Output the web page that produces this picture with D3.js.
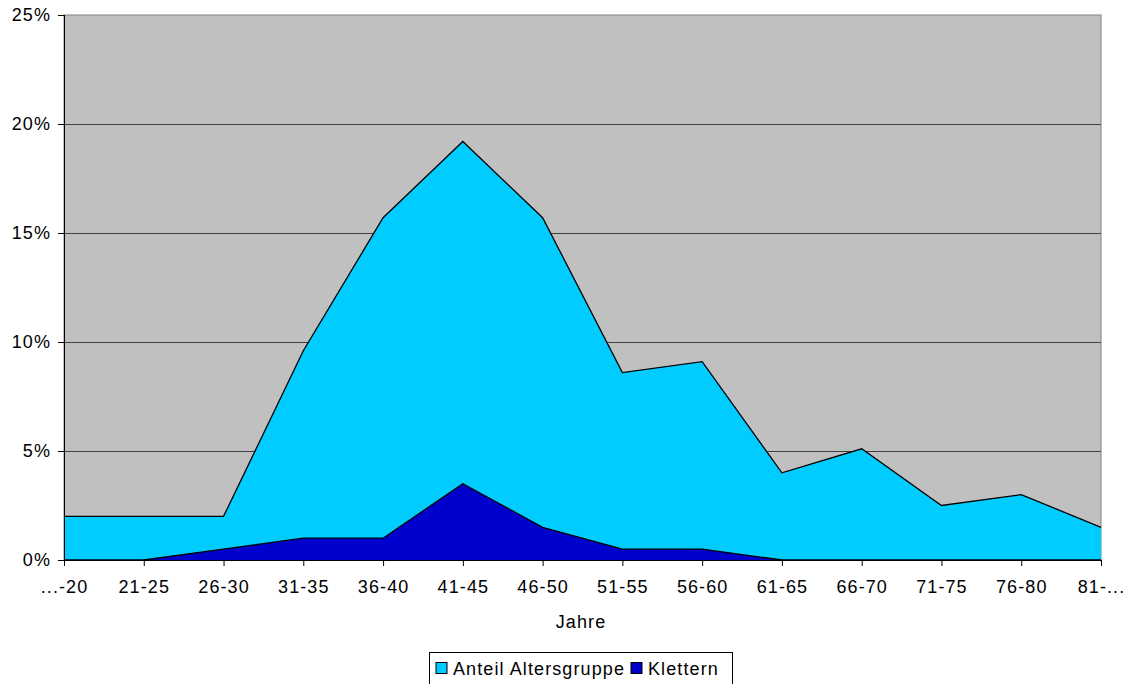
<!DOCTYPE html>
<html><head><meta charset="utf-8">
<script src="https://cdn.jsdelivr.net/npm/d3@7"></script>
<style>body{margin:0;background:#fff}svg{display:block;font-family:"Liberation Sans",Arial,sans-serif}</style>
</head><body>
<svg id="c" width="1129" height="684"></svg>
<script>
const categories = ["...-20","21-25","26-30","31-35","36-40","41-45","46-50","51-55","56-60","61-65","66-70","71-75","76-80","81-..."];
const anteil = [2.0,2.0,2.0,9.6,15.7,19.2,15.7,8.6,9.1,4.0,5.1,2.5,3.0,1.5];
const klettern = [0,0,0.5,1.0,1.0,3.5,1.5,0.5,0.5,0,0,0,0,0];
const yTicks = [0,5,10,15,20,25];
const seriesNames = ["Anteil Altersgruppe","Klettern"];
const colors = ["#00CCFF","#0000CC"];

const FS = 18, LS = 1.1;
const svg = d3.select("#c");
const L=64,R=1101,T=15,B=560;
const x = d3.scalePoint().domain(categories).range([L,R]);
const y = d3.scaleLinear().domain([0,25]).range([B,T]);

svg.append("rect").attr("x",L).attr("y",T).attr("width",R-L).attr("height",B-T).attr("fill","#C0C0C0").attr("stroke","#808080").attr("stroke-width",1);

svg.append("g").selectAll("line").data(yTicks.filter(d=>d>0&&d<25)).join("line")
  .attr("x1",L).attr("x2",R).attr("y1",d=>y(d)+0.5).attr("y2",d=>y(d)+0.5).attr("stroke","#404040").attr("stroke-width",1);

const area = d3.area().x((d,i)=>x(categories[i])).y0(y(0)).y1(d=>y(d));
const line = d3.line().x((d,i)=>x(categories[i])).y(d=>y(d));
[anteil,klettern].forEach((s,k)=>{
  svg.append("path").datum(s).attr("d",area).attr("fill",colors[k]);
  svg.append("path").datum(s).attr("d",line).attr("fill","none").attr("stroke","#000").attr("stroke-width",1.3);
});

const yAxis = svg.append("g").attr("transform",`translate(${L},0)`).call(d3.axisLeft(y).tickValues(yTicks).tickSize(6).tickFormat(d=>d+"%"));
yAxis.select(".domain").attr("stroke","#000").attr("d",`M0.5,${T}V${B}`);
yAxis.selectAll("line").attr("stroke","#000");
yAxis.selectAll("text").attr("font-size",FS).attr("letter-spacing",LS).attr("fill","#000").attr("x",-13).attr("font-family","Liberation Sans, Arial, sans-serif");

const xAxis = svg.append("g").attr("transform",`translate(0,${B})`).call(d3.axisBottom(x).tickSize(6));
xAxis.select(".domain").attr("stroke","#000").attr("d",`M${L},0.5H${R}`);
xAxis.selectAll("line").attr("stroke","#000");
xAxis.selectAll("text").attr("font-size",FS).attr("letter-spacing",LS).attr("fill","#000").attr("y",20).attr("font-family","Liberation Sans, Arial, sans-serif");

svg.append("text").attr("x",581).attr("y",628).attr("text-anchor","middle").attr("font-size",FS).attr("letter-spacing",LS).text("Jahre");

const lg = svg.append("g");
lg.append("rect").attr("x",429.5).attr("y",652.5).attr("width",303).attr("height",40).attr("fill","#fff").attr("stroke","#000");
let lx = 436;
seriesNames.forEach((n,k)=>{
  lg.append("rect").attr("x",lx).attr("y",662.5).attr("width",11).attr("height",11).attr("fill",colors[k]).attr("stroke","#000");
  const t = lg.append("text").attr("x",lx+17).attr("y",675).attr("font-size",FS).attr("letter-spacing",LS).text(n);
  lx += 17 + t.node().getComputedTextLength() + 6;
});
</script>
</body></html>
